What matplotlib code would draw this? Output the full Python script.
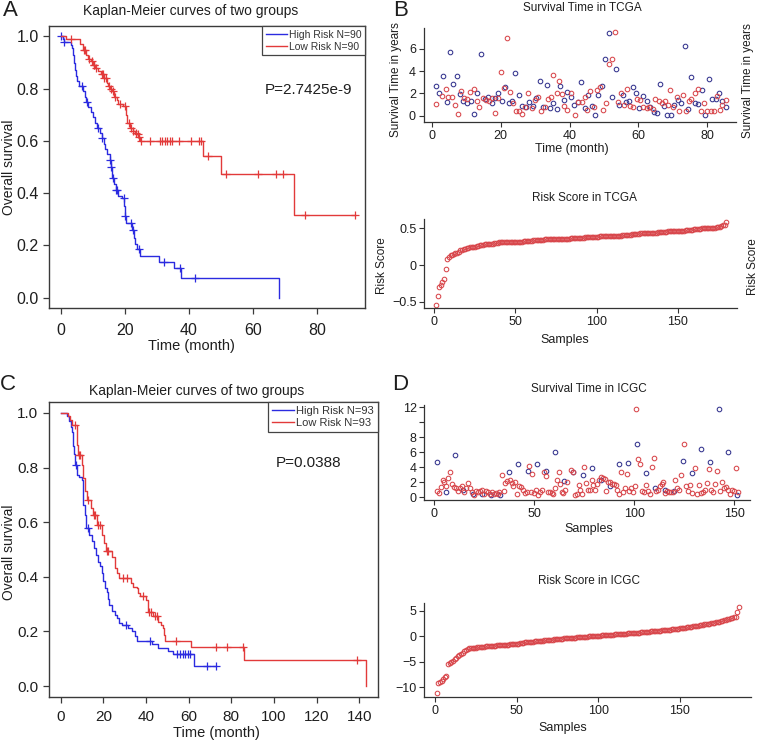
import numpy as np
import matplotlib
matplotlib.use('Agg')
import matplotlib.pyplot as plt
from matplotlib.lines import Line2D

plt.rcParams['font.family'] = ['Liberation Sans', 'DejaVu Sans']

blue_km = '#2b2be0'
red_km = '#e23a3a'
blue_pt = '#34348e'
red_pt = '#d8464b'
txt = '#1e1e1e'

# ---------------- A: KM curves, TCGA (step times, survival after step, censor times)
a_high_t = [0.7, 1.0, 3.3, 3.6, 3.9, 4.2, 4.5, 4.8, 5.2, 5.6, 7.0, 7.5, 8.0, 8.6, 9.4, 10.0,
            10.6, 11.2, 12.2, 12.7, 13.4, 13.9, 14.5, 15.2, 15.6, 15.9, 16.05, 16.6, 17.1,
            18.0, 19.2, 19.8, 20.0, 20.5, 22.2, 22.8, 23.3, 23.7, 24.8, 30.8, 35.4, 37.6, 68.0]
a_high_s = [0.989, 0.978, 0.967, 0.956, 0.93, 0.90, 0.87, 0.85, 0.83, 0.81, 0.79, 0.77, 0.75,
            0.73, 0.71, 0.69, 0.67, 0.65, 0.63, 0.61, 0.59, 0.57, 0.55, 0.525, 0.50, 0.48,
            0.456, 0.436, 0.412, 0.39, 0.38, 0.35, 0.311, 0.284, 0.257, 0.23, 0.205, 0.185,
            0.16, 0.137, 0.112, 0.074, 0.0]
a_high_cens = [0.1, 1.0, 6.5, 8.2, 11.7, 13.0, 15.5, 15.7, 16.2, 17.2, 17.4, 19.7, 20.0,
               22.0, 22.4, 24.5, 32.3, 37.3, 42.0]

a_low_t = [1.5, 5.9, 7.0, 7.8, 8.5, 9.3, 10.0, 10.8, 11.7, 12.5, 13.5, 14.3, 14.8, 15.3, 16.1,
           16.7, 17.4, 17.9, 19.5, 20.3, 20.8, 21.5, 22.4, 23.1, 23.6, 24.2, 24.7, 44.3, 50.0, 72.8]
a_low_s = [0.989, 0.97, 0.95, 0.93, 0.914, 0.905, 0.89, 0.88, 0.867, 0.858, 0.84, 0.822, 0.81,
           0.80, 0.79, 0.77, 0.758, 0.743, 0.733, 0.70, 0.667, 0.65, 0.637, 0.63, 0.625, 0.616,
           0.60, 0.542, 0.472, 0.315]
a_low_cens = [3.1, 7.3, 7.6, 8.8, 9.6, 10.2, 10.5, 11.0, 12.8, 13.2, 13.6, 14.0, 15.0, 15.6,
              16.3, 17.0, 18.5, 20.0, 21.2, 21.8, 22.6, 23.4, 24.0, 24.5, 25.0, 28.0, 30.9,
              31.7, 32.5, 33.2, 34.1, 34.6, 37.0, 40.8, 43.2, 43.9, 46.0, 51.5, 61.7, 67.2,
              69.3, 76.3, 91.9]

# ---------------- C: KM curves, ICGC
c_high_t = [2.8, 3.9, 4.7, 5.2, 5.9, 6.2, 6.9, 7.8, 8.7, 9.8, 10.3, 10.6, 11.4, 11.9, 13.3,
            14.5, 15.8, 16.6, 17.7, 18.4, 19.2, 20.0, 20.8, 21.9, 22.3, 22.8, 23.9, 25.5,
            26.6, 27.5, 28.6, 31.7, 33.3, 34.8, 35.9, 42.7, 45.8, 50.5, 52.8, 62.5]
c_high_s = [0.99, 0.97, 0.95, 0.93, 0.88, 0.85, 0.81, 0.774, 0.764, 0.755, 0.72, 0.664,
            0.627, 0.578, 0.554, 0.53, 0.505, 0.48, 0.456, 0.438, 0.413, 0.383, 0.358,
            0.346, 0.32, 0.295, 0.275, 0.26, 0.248, 0.23, 0.224, 0.211, 0.2, 0.185, 0.165,
            0.153, 0.14, 0.128, 0.116, 0.075]
c_high_cens = [7.2, 12.7, 30.6, 41.9, 54.4, 55.9, 57.2, 58.4, 59.5, 60.6, 68.4, 72.8]

c_low_t = [3.5, 4.4, 5.2, 7.8, 8.2, 9.8, 10.6, 11.4, 12.2, 14.1, 15.0, 16.9, 19.2, 20.3,
           21.3, 23.9, 25.5, 26.6, 27.5, 32.8, 34.0, 35.6, 36.4, 37.2, 39.8, 40.8, 43.1,
           45.8, 46.9, 47.8, 48.4, 48.9, 60.9, 85.8, 143.1]
c_low_s = [0.99, 0.975, 0.957, 0.884, 0.845, 0.81, 0.76, 0.713, 0.682, 0.652, 0.627, 0.59,
           0.554, 0.523, 0.493, 0.474, 0.432, 0.413, 0.395, 0.377, 0.364, 0.358, 0.34,
           0.328, 0.315, 0.273, 0.258, 0.236, 0.224, 0.211, 0.187, 0.165, 0.142, 0.094, 0.0]
c_low_cens = [6.7, 8.4, 9.0, 13.0, 15.8, 16.1, 17.7, 18.4, 21.6, 22.3, 29.4, 31.0, 38.7,
              41.6, 42.2, 44.2, 45.0, 54.0, 72.8, 77.8, 85.3, 138.7]

# ---------------- B: survival time scatter, TCGA
b_blue_x = [1.3, 2.2, 3.4, 4.4, 5.3, 6.3, 7.3, 8.2, 9.2, 10.3, 11.4, 12.4, 13.2, 14.3, 15.4,
            16.4, 17.4, 18.3, 19.3, 20.4, 21.4, 22.4, 23.4, 24.3, 25.2, 26.3, 27.3, 28.3,
            29.3, 30.3, 31.3, 32.4, 33.4, 34.3, 35.3, 36.4, 37.3, 38.3, 39.4, 40.3, 41.4,
            42.4, 43.3, 44.4, 45.4, 46.4, 47.4, 48.4, 49.4, 50.4, 51.4, 52.4, 53.4, 54.4,
            55.4, 56.4, 57.4, 58.4, 59.4, 60.3, 61.4, 62.4, 63.3, 64.4, 65.4, 66.4, 67.4,
            68.4, 69.4, 70.4, 71.4, 72.4, 73.4, 74.4, 75.4, 76.4, 77.4, 78.4, 79.4, 80.4,
            81.4, 82.4, 83.4, 84.4, 85.4]
b_blue_y = [2.66, 2.06, 3.6, 1.22, 5.7, 2.8, 3.55, 1.94, 1.34, 1.1, 1.31, 0.12, 2.0, 5.52,
            1.46, 1.64, 1.16, 1.6, 2.0, 1.34, 2.6, 1.1, 1.34, 3.8, 1.82, 0.87, 0.75, 1.19,
            0.87, 1.58, 3.1, 0.8, 2.75, 0.69, 1.1, 0.57, 2.7, 1.4, 2.09, 1.7, 0.93, 1.25,
            3.0, 0.66, 1.82, 0.87, 0.03, 1.82, 2.7, 5.05, 7.46, 1.64, 4.2, 0.93, 1.82, 1.22,
            1.34, 2.54, 2.0, 0.66, 1.79, 1.31, 0.75, 0.33, 0.21, 2.84, 0.87, 0.03, 0.03,
            0.99, 1.4, 1.16, 6.24, 0.63, 3.43, 1.1, 1.04, 2.3, 0.03, 3.31, 1.46, 1.46, 2.0,
            1.28, 0.81]
b_red_x = [1.3, 3.0, 4.0, 4.8, 5.9, 6.7, 7.5, 8.4, 9.4, 10.3, 11.1, 12.2, 13.0, 13.7, 14.8,
           15.8, 16.6, 17.5, 18.3, 19.1, 20.0, 21.0, 21.9, 22.7, 23.6, 24.5, 25.4, 26.3,
           27.2, 28.0, 29.0, 30.0, 30.9, 31.8, 32.8, 33.7, 34.6, 35.3, 36.4, 37.0, 37.7,
           38.5, 39.4, 40.3, 41.5, 42.6, 43.5, 44.4, 45.2, 46.0, 47.0, 47.9, 48.8, 49.6,
           50.6, 51.4, 52.3, 53.2, 54.1, 55.0, 55.9, 56.8, 57.7, 58.5, 59.5, 60.4, 61.4,
           62.4, 63.0, 64.1, 64.9, 65.9, 66.8, 67.7, 68.6, 69.3, 70.1, 71.1, 71.9, 72.8,
           73.8, 74.6, 75.4, 76.4, 77.4, 78.2, 79.1, 80.0, 81.0, 81.8, 82.7, 83.7, 84.4, 85.4]
b_red_y = [1.04, 1.76, 2.36, 1.64, 1.64, 0.93, 0.12, 2.24, 1.55, 1.52, 2.15, 2.39, 1.31,
           0.8, 1.58, 1.4, 1.31, 1.58, 0.21, 1.58, 3.91, 2.45, 7.0, 2.12, 1.1, 0.45, 0.45,
           0.15, 0.75, 2.06, 0.66, 1.4, 1.7, 0.45, 0.8, 1.52, 1.7, 3.64, 2.06, 3.13, 1.94,
           0.87, 0.5, 2.0, 0.03, 1.25, 1.25, 1.7, 0.5, 2.18, 0.75, 2.3, 2.54, 0.5, 1.1, 4.6,
           5.1, 7.5, 1.22, 2.0, 0.93, 2.36, 0.87, 0.75, 1.52, 1.4, 0.75, 0.66, 0.8, 0.57,
           1.46, 1.34, 1.16, 1.34, 0.93, 2.3, 0.8, 1.7, 0.39, 1.82, 0.45, 1.34, 1.52, 2.06,
           2.42, 0.39, 1.1, 0.39, 0.39, 0.39, 1.76, 0.5, 0.93, 1.4]

# ---------------- B: sorted risk score, TCGA (180 samples)
tcga_risk = [
    -0.55, -0.42, -0.30, -0.27, -0.23, -0.19, -0.05, 0.08, 0.11, 0.13,
    0.14, 0.15, 0.16, 0.17, 0.18, 0.20, 0.21, 0.22, 0.22, 0.23,
    0.23, 0.24, 0.24, 0.25, 0.25, 0.26, 0.26, 0.27, 0.27, 0.27,
    0.28, 0.28, 0.28, 0.29, 0.29, 0.29, 0.30, 0.30, 0.30, 0.31,
    0.31, 0.31, 0.31, 0.31, 0.31, 0.32, 0.32, 0.32, 0.32, 0.32,
    0.32, 0.32, 0.32, 0.32, 0.33, 0.33, 0.33, 0.33, 0.33, 0.33,
    0.34, 0.34, 0.34, 0.34, 0.34, 0.34, 0.34, 0.35, 0.35, 0.35,
    0.35, 0.35, 0.35, 0.35, 0.35, 0.36, 0.36, 0.36, 0.36, 0.36,
    0.36, 0.36, 0.36, 0.37, 0.37, 0.37, 0.37, 0.37, 0.37, 0.37,
    0.37, 0.37, 0.38, 0.38, 0.38, 0.38, 0.38, 0.38, 0.38, 0.38,
    0.38, 0.39, 0.39, 0.39, 0.39, 0.39, 0.39, 0.39, 0.39, 0.40,
    0.40, 0.40, 0.40, 0.40, 0.40, 0.41, 0.41, 0.41, 0.41, 0.41,
    0.41, 0.42, 0.42, 0.42, 0.42, 0.42, 0.43, 0.43, 0.43, 0.43,
    0.43, 0.43, 0.44, 0.44, 0.44, 0.44, 0.44, 0.45, 0.45, 0.45,
    0.45, 0.45, 0.45, 0.46, 0.46, 0.46, 0.46, 0.46, 0.47, 0.47,
    0.47, 0.47, 0.47, 0.47, 0.48, 0.48, 0.48, 0.48, 0.48, 0.49,
    0.49, 0.49, 0.49, 0.49, 0.50, 0.50, 0.50, 0.50, 0.50, 0.51,
    0.51, 0.51, 0.51, 0.52, 0.52, 0.52, 0.53, 0.54, 0.55, 0.58]

# ---------------- D: survival time scatter, ICGC
d_blue_x = [1.2, 5.7, 10.2, 14.5, 19.2, 23.9, 28.5, 33.0, 37.5, 42.0, 46.7, 51.2, 55.9, 60.4,
            65.1, 69.6, 74.2, 78.7, 83.2, 87.9, 92.4, 96.9, 101.6, 106.1, 110.6, 115.3,
            119.8, 124.3, 129.0, 133.5, 138.0, 142.6, 147.1, 151.7]
d_blue_y = [4.67, 0.76, 5.6, 0.93, 0.44, 0.4, 0.31, 0.27, 3.33, 4.4, 3.51, 4.4, 3.51, 6.0,
            2.18, 3.42, 2.98, 3.96, 2.27, 1.47, 4.4, 4.53, 7.07, 3.29, 1.2, 1.02, 0.84, 4.89,
            3.29, 6.4, 4.76, 11.8, 6.0, 0.31]
d_red_x = [1.2, 2.2, 3.2, 4.2, 5.0, 5.8, 6.8, 7.8, 8.8, 9.7, 10.7, 11.7, 12.8, 13.8, 14.8,
           15.8, 16.9, 17.9, 18.9, 19.9, 20.9, 21.9, 22.9, 23.9, 24.9, 25.9, 26.9, 27.9,
           28.9, 29.9, 30.9, 31.9, 32.5, 33.9, 34.9, 35.5, 36.5, 37.9, 38.9, 39.5, 40.5,
           41.5, 42.5, 43.2, 44.2, 45.2, 46.2, 47.2, 48.2, 48.9, 49.9, 50.9, 51.9, 52.9,
           53.9, 54.9, 55.9, 56.9, 57.9, 58.9, 59.6, 60.6, 61.2, 62.2, 62.9, 63.9, 64.6,
           65.6, 66.6, 68.6, 69.6, 70.6, 71.2, 72.2, 72.9, 73.9, 74.9, 75.9, 76.9, 77.9,
           78.9, 79.6, 80.6, 81.6, 82.2, 83.2, 84.3, 85.3, 85.9, 86.9, 87.9, 88.9, 89.9,
           90.9, 91.6, 92.6, 93.6, 94.6, 95.6, 96.6, 97.6, 98.6, 99.3, 100.6, 101.1, 102.1,
           103.1, 104.1, 105.1, 106.1, 107.1, 107.9, 108.9, 110.0, 111.0, 112.0, 112.9,
           113.9, 114.6, 115.6, 116.6, 117.6, 118.6, 119.6, 120.6, 121.6, 122.6, 123.6,
           125.0, 126.0, 127.0, 128.0, 129.0, 130.3, 131.3, 132.3, 133.3, 134.3, 135.3,
           136.3, 137.3, 138.3, 139.3, 140.3, 141.6, 143.0, 144.0, 145.0, 146.0, 147.0,
           148.0, 149.0, 150.0, 151.0, 152.0]
d_red_y = [0.84, 0.58, 1.38, 2.27, 2.0, 1.56, 2.62, 3.33, 1.82, 1.38,
           1.2, 0.84, 1.2, 1.47, 0.76, 1.2, 1.91, 1.29, 0.76, 0.31,
           0.84, 0.76, 0.84, 1.02, 0.49, 0.84, 0.76, 0.49, 0.67, 0.49,
           0.58, 0.49, 0.76, 2.98, 0.84, 1.91, 2.18, 2.36, 1.91, 1.47,
           2.0, 0.49, 1.56, 1.38, 0.93, 0.58, 0.76, 4.13, 0.76, 3.07,
           0.58, 0.93, 0.31, 0.76, 0.93, 3.42, 2.8, 0.76, 0.76, 0.58,
           0.4, 1.29, 2.36, 3.33, 1.82, 0.76, 0.58, 0.93, 2.0, 3.69,
           3.33, 0.31, 0.4, 1.64, 0.93, 0.4, 4.04, 1.91, 1.02, 0.93,
           2.27, 1.64, 1.02, 1.82, 2.27, 2.71, 2.62, 2.44, 0.84, 2.09,
           2.0, 1.73, 1.82, 1.64, 1.02, 0.49, 3.33, 0.76, 1.2, 3.07,
           0.84, 1.2, 0.76, 1.56, 11.8, 5.07, 4.4, 0.84, 0.76, 1.64,
           0.84, 0.4, 4.04, 5.2, 0.84, 1.02, 1.56, 1.82, 2.0, 0.58,
           0.84, 0.76, 0.76, 0.76, 2.27, 1.29, 0.93, 2.98, 7.07, 1.47,
           0.84, 1.64, 0.58, 3.87, 0.49, 1.64, 0.58, 0.67, 0.93, 1.91,
           3.78, 0.93, 0.76, 1.73, 3.51, 0.84, 2.09, 1.2, 1.38, 0.93,
           0.4, 1.02, 0.84, 3.96, 0.76]

# ---------------- D: sorted risk score, ICGC (186 samples)
icgc_risk = [
    -11.2, -9.1, -8.9, -8.7, -8.4, -7.9, -7.7, -5.4, -5.2, -5.0,
    -4.8, -4.5, -4.2, -3.9, -3.7, -3.5, -3.2, -2.9, -2.6, -2.4,
    -2.3, -2.3, -2.2, -2.2, -2.2, -2.1, -2.1, -2.1, -2.0, -2.0,
    -1.9, -1.9, -1.9, -1.8, -1.8, -1.8, -1.8, -1.7, -1.7, -1.7,
    -1.7, -1.6, -1.6, -1.6, -1.6, -1.5, -1.5, -1.5, -1.4, -1.4,
    -1.4, -1.3, -1.3, -1.3, -1.2, -1.2, -1.2, -1.1, -1.1, -1.1,
    -1.0, -1.0, -1.0, -0.9, -0.9, -0.9, -0.8, -0.8, -0.8, -0.7,
    -0.7, -0.7, -0.6, -0.6, -0.6, -0.5, -0.5, -0.5, -0.4, -0.4,
    -0.4, -0.4, -0.3, -0.3, -0.3, -0.3, -0.2, -0.2, -0.2, -0.1,
    -0.1, -0.1, -0.1, 0.0, 0.0, 0.0, 0.0, 0.1, 0.1, 0.1,
    0.1, 0.2, 0.2, 0.2, 0.2, 0.3, 0.3, 0.3, 0.3, 0.4,
    0.4, 0.4, 0.4, 0.5, 0.5, 0.5, 0.5, 0.6, 0.6, 0.6,
    0.6, 0.7, 0.7, 0.7, 0.7, 0.8, 0.8, 0.8, 0.9, 0.9,
    0.9, 1.0, 1.0, 1.0, 1.0, 1.1, 1.1, 1.1, 1.2, 1.2,
    1.2, 1.3, 1.3, 1.3, 1.4, 1.4, 1.5, 1.5, 1.5, 1.6,
    1.6, 1.7, 1.7, 1.8, 1.8, 1.9, 1.9, 2.0, 2.0, 2.1,
    2.1, 2.2, 2.3, 2.3, 2.4, 2.4, 2.5, 2.5, 2.6, 2.7,
    2.7, 2.8, 2.9, 2.9, 3.0, 3.1, 3.2, 3.3, 3.4, 3.5,
    3.6, 3.7, 3.8, 3.9, 4.8, 5.7]

W, H = 760.0, 744.0
fig = plt.figure(figsize=(W / 100, H / 100), dpi=100)


def box(l, t, r, b):
    return [l / W, 1 - b / H, (r - l) / W, (b - t) / H]


def put(x, y, s, **kw):
    kw.setdefault('ha', 'center')
    kw.setdefault('va', 'center')
    kw.setdefault('color', txt)
    fig.text(x / W, 1 - y / H, s, **kw)


def km_curve(ax, t, s, cens, color):
    tt = np.r_[0.0, t]
    ss = np.r_[1.0, s]
    end = max(max(cens), t[-1])
    ax.step(np.r_[tt, end], np.r_[ss, ss[-1]], where='post', color=color, lw=1.0)
    idx = np.searchsorted(tt, cens, side='right') - 1
    ax.plot(cens, ss[idx], '+', color=color, ms=6, mew=0.9, ls='none')


def km_axes(ax, xlim, xticks, fs_tick, xpad):
    ax.set_xlim(xlim)
    ax.set_ylim(-0.04, 1.04)
    ax.set_xticks(xticks)
    ax.set_yticks([0, 0.2, 0.4, 0.6, 0.8, 1.0])
    ax.set_yticklabels(['0.0', '0.2', '0.4', '0.6', '0.8', '1.0'])
    for sp in ax.spines.values():
        sp.set_color('#3a3a3a')
        sp.set_linewidth(1.0)
    ax.tick_params(direction='out', length=4.5, width=0.9, color='#3a3a3a',
                   labelsize=fs_tick, labelcolor=txt, pad=3)
    ax.tick_params(axis='x', pad=xpad)


def small_axes(ax, xlim, ylim):
    ax.set_xlim(xlim)
    ax.set_ylim(ylim)
    ax.spines['top'].set_visible(False)
    ax.spines['right'].set_visible(False)
    for s in ['left', 'bottom']:
        ax.spines[s].set_color('#333333')
        ax.spines[s].set_linewidth(0.9)
    ax.tick_params(direction='out', length=3.5, width=0.8, color='#333333',
                   labelsize=9, labelcolor=txt, pad=2)


def km_legend(ax, n, fs):
    handles = [Line2D([], [], color=blue_km, lw=1.0), Line2D([], [], color=red_km, lw=1.0)]
    leg = ax.legend(handles, ['High Risk N=%d' % n, 'Low Risk N=%d' % n], loc='upper right',
                    borderaxespad=0, fancybox=False, edgecolor='#444444', fontsize=fs,
                    handlelength=2.0, handletextpad=0.2, borderpad=0.35, labelspacing=0.2,
                    framealpha=1)
    leg.get_frame().set_linewidth(0.9)
    for t in leg.get_texts():
        t.set_color('#333333')


# ---- A
axA = fig.add_axes(box(49, 26, 365, 308))
km_curve(axA, a_high_t, a_high_s, a_high_cens, blue_km)
km_curve(axA, a_low_t, a_low_s, a_low_cens, red_km)
km_axes(axA, (-3.7, 95.0), [0, 20, 40, 60, 80], 11.5, 6.5)
km_legend(axA, 90, 7.5)
put(309, 90, 'P=2.7425e-9', fontsize=11)
put(191, 11, 'Kaplan-Meier curves of two groups', fontsize=10)
put(9, 167, 'Overall survival', fontsize=10, rotation=90)
put(191, 346, 'Time (month)', fontsize=10.5)
put(10, 11, 'A', fontsize=16)

# ---- C
axC = fig.add_axes(box(48.7, 402, 377.7, 697))
km_curve(axC, c_high_t, c_high_s, c_high_cens, blue_km)
km_curve(axC, c_low_t, c_low_s, c_low_cens, red_km)
km_axes(axC, (-5.6, 148.6), [0, 20, 40, 60, 80, 100, 120, 140], 11, 5)
km_legend(axC, 93, 8)
put(309, 463, 'P=0.0388', fontsize=11)
put(197, 391, 'Kaplan-Meier curves of two groups', fontsize=10)
put(9.5, 552, 'Overall survival', fontsize=10, rotation=90)
put(216, 733, 'Time (month)', fontsize=10.5)
put(8, 385, 'C', fontsize=16)

# ---- B top: survival time
axB1 = fig.add_axes(box(423.6, 28.3, 736.1, 122.3))
axB1.plot(b_blue_x, b_blue_y, 'o', mfc='none', mec=blue_pt, ms=3.3, mew=0.75, ls='none')
axB1.plot(b_red_x, b_red_y, 'o', mfc='none', mec=red_pt, ms=3.3, mew=0.75, ls='none')
small_axes(axB1, (-2.36, 88.36), (-0.6, 7.84))
axB1.set_xticks([0, 20, 40, 60, 80])
axB1.set_yticks([0, 2, 4, 6])
put(582, 8, 'Survival Time in TCGA', fontsize=8.5)
put(572, 149, 'Time (month)', fontsize=9)
put(395.5, 80, 'Survival Time in years', fontsize=8.5, rotation=90)
put(748, 81, 'Survival Time in years', fontsize=8.5, rotation=90)
put(401, 11, 'B', fontsize=16)

# ---- B bottom: risk score
axB2 = fig.add_axes(box(424.3, 219.3, 737.3, 308.3))
axB2.plot(np.arange(1, len(tcga_risk) + 1), tcga_risk, 'o', mfc='none', mec=red_pt,
          ms=3.3, mew=0.75, ls='none')
small_axes(axB2, (-6.2, 186.8), (-0.59, 0.623))
axB2.set_xticks([0, 50, 100, 150])
axB2.set_yticks([-0.5, 0, 0.5])
axB2.set_yticklabels(['\u22120.5', '0', '0.5'])
put(584, 198, 'Risk Score in TCGA', fontsize=8.5)
put(565, 340, 'Samples', fontsize=9)
put(382, 266, 'Risk Score', fontsize=8.5, rotation=90)
put(753, 267, 'Risk Score', fontsize=8.5, rotation=90)

# ---- D top: survival time
axD1 = fig.add_axes(box(424.3, 405, 750, 500))
axD1.plot(d_blue_x, d_blue_y, 'o', mfc='none', mec=blue_pt, ms=3.3, mew=0.75, ls='none')
axD1.plot(d_red_x, d_red_y, 'o', mfc='none', mec=red_pt, ms=3.3, mew=0.75, ls='none')
small_axes(axD1, (-5.0, 158.0), (-0.36, 12.3))
axD1.set_xticks([0, 50, 100, 150])
axD1.set_yticks([0, 2, 4, 6, 8, 10, 12])
axD1.set_yticklabels(['0', '2', '4', '6', '8', '', '12'])
put(588.5, 389, 'Survival Time in ICGC', fontsize=8.5)
put(589, 529, 'Samples', fontsize=9)
put(400, 385, 'D', fontsize=16)

# ---- D bottom: risk score
axD2 = fig.add_axes(box(424.3, 603.3, 750.7, 697.3))
axD2.plot(np.arange(1, len(icgc_risk) + 1), icgc_risk, 'o', mfc='none', mec=red_pt,
          ms=3.3, mew=0.75, ls='none')
small_axes(axD2, (-6.55, 193.3), (-11.97, 6.5))
axD2.set_xticks([0, 50, 100, 150])
axD2.set_yticks([-10, -5, 0, 5])
put(589, 580.5, 'Risk Score in ICGC', fontsize=8.5)
put(563, 728, 'Samples', fontsize=9)

fig.savefig('out.png', dpi=100)
